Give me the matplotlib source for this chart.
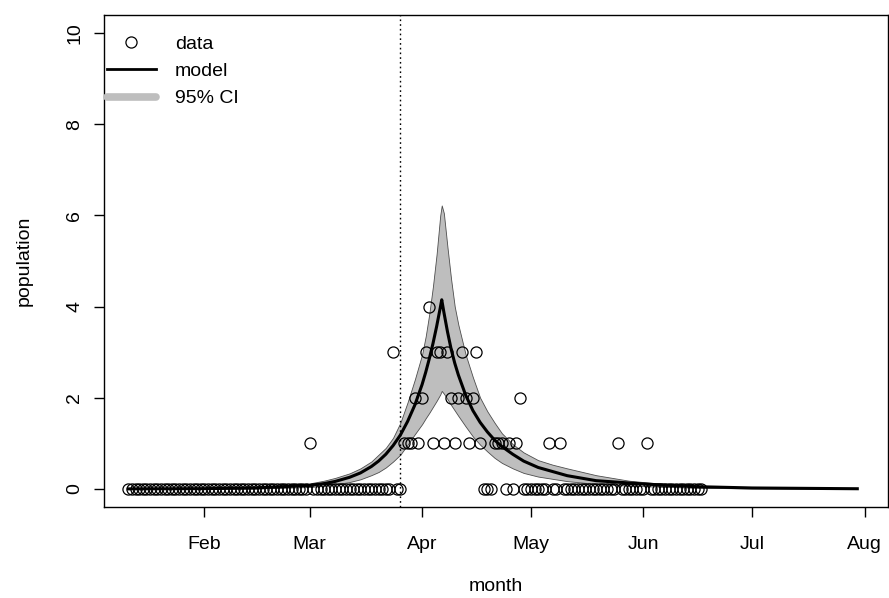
import numpy as np
import pandas as pd
import matplotlib
matplotlib.use("Agg")
import matplotlib.pyplot as plt
import matplotlib.dates as mdates
from matplotlib.lines import Line2D

plt.rcParams['font.family'] = ['Liberation Sans', 'DejaVu Sans']

# observed daily counts: every day from first to last is 0 except these
obs_start = "2020-01-11"
obs_end = "2020-06-17"
hit_dates = ["2020-03-01", "2020-03-24", "2020-03-27", "2020-03-28", "2020-03-29",
             "2020-03-30", "2020-03-31", "2020-04-01", "2020-04-02", "2020-04-03",
             "2020-04-04", "2020-04-05", "2020-04-06", "2020-04-07", "2020-04-08",
             "2020-04-09", "2020-04-10", "2020-04-11", "2020-04-12", "2020-04-13",
             "2020-04-14", "2020-04-15", "2020-04-16", "2020-04-17", "2020-04-21",
             "2020-04-22", "2020-04-23", "2020-04-25", "2020-04-27", "2020-04-28",
             "2020-05-06", "2020-05-09", "2020-05-25", "2020-06-02"]
hit_counts = [1, 3, 1, 1, 1,
              2, 1, 2, 3, 4,
              1, 3, 3, 1, 3,
              2, 1, 2, 3, 2,
              1, 2, 3, 1, 1,
              1, 1, 1, 1, 2,
              1, 1, 1, 1]

# fitted model and 95% CI
model_dates = ["2020-01-11 00:00", "2020-02-01 00:00", "2020-02-15 00:00", "2020-03-01 00:00",
               "2020-03-05 00:00", "2020-03-08 00:00", "2020-03-12 00:00", "2020-03-15 00:00",
               "2020-03-18 00:00", "2020-03-20 00:00", "2020-03-22 00:00", "2020-03-24 00:00",
               "2020-03-26 00:00", "2020-03-28 00:00", "2020-03-30 00:00", "2020-04-01 00:00",
               "2020-04-02 00:00", "2020-04-03 00:00", "2020-04-04 00:00", "2020-04-05 00:00",
               "2020-04-06 00:00", "2020-04-06 10:00", "2020-04-07 00:00", "2020-04-08 00:00",
               "2020-04-09 00:00", "2020-04-10 00:00", "2020-04-11 00:00", "2020-04-13 00:00",
               "2020-04-15 00:00", "2020-04-17 00:00", "2020-04-19 00:00", "2020-04-21 00:00",
               "2020-04-23 00:00", "2020-04-26 00:00", "2020-04-29 00:00", "2020-05-03 00:00",
               "2020-05-07 00:00", "2020-05-11 00:00", "2020-05-19 00:00", "2020-05-28 00:00",
               "2020-06-05 00:00", "2020-06-15 00:00", "2020-07-01 00:00", "2020-07-30 00:00"]
model_fit = [0.0, 0.005, 0.02, 0.076,
             0.117, 0.163, 0.254, 0.35,
             0.49, 0.61, 0.76, 0.95,
             1.18, 1.48, 1.84, 2.29,
             2.56, 2.86, 3.19, 3.56,
             3.97, 4.15, 3.88, 3.45,
             3.07, 2.76, 2.5, 2.06,
             1.72, 1.46, 1.25, 1.07,
             0.93, 0.76, 0.61, 0.47,
             0.38, 0.29, 0.18, 0.13,
             0.09, 0.05, 0.02, 0.003]
ci_low = [0.0, 0.002, 0.008, 0.04,
          0.07, 0.10, 0.15, 0.21,
          0.30, 0.37, 0.47, 0.60,
          0.75, 0.97, 1.20, 1.42,
          1.55, 1.67, 1.80, 1.93,
          2.07, 2.15, 2.09, 1.97,
          1.84, 1.72, 1.60, 1.37,
          1.15, 0.97, 0.82, 0.68,
          0.57, 0.45, 0.35, 0.27,
          0.22, 0.17, 0.11, 0.07,
          0.05, 0.025, 0.01, 0.001]
ci_high = [0.0, 0.01, 0.035, 0.12,
           0.18, 0.24, 0.34, 0.45,
           0.60, 0.75, 0.90, 1.12,
           1.45, 1.90, 2.40, 2.95,
           3.35, 3.85, 4.45, 5.15,
           6.00, 6.22, 6.05, 5.30,
           4.60, 4.00, 3.60, 2.95,
           2.45, 2.00, 1.70, 1.45,
           1.22, 0.98, 0.80, 0.63,
           0.53, 0.45, 0.30, 0.18,
           0.12, 0.07, 0.03, 0.005]

cutoff_date = "2020-03-26"

obs = pd.Series(0, index=pd.date_range(obs_start, obs_end, freq="D"))
obs[pd.to_datetime(hit_dates)] = hit_counts
mdt = pd.to_datetime(model_dates, format="%Y-%m-%d %H:%M")

fig = plt.figure(figsize=(8.89, 5.98), dpi=100)
ax = fig.add_axes([0.117, 0.152, 0.882, 0.823])

ax.fill_between(mdt, ci_low, ci_high, facecolor="#bebebe", edgecolor="#4d4d4d", lw=0.6, zorder=1)
ax.plot(obs.index, obs.values, "o", mfc="none", mec="black", ms=8, mew=0.9, zorder=3)
ax.plot(mdt, model_fit, color="black", lw=2.2, zorder=4)
ax.axvline(pd.Timestamp(cutoff_date), color="black", ls=(0, (1.2, 2.2)), lw=1, zorder=2)

ax.set_xlim(pd.Timestamp("2020-01-04 07:00"), pd.Timestamp("2020-08-07 12:00"))
ax.set_ylim(-0.4, 10.4)
ax.xaxis.set_major_locator(mdates.MonthLocator(bymonth=range(2, 9)))
ax.xaxis.set_major_formatter(mdates.DateFormatter("%b"))
ax.set_yticks([0, 2, 4, 6, 8, 10])
ax.set_yticklabels(["0", "2", "4", "6", "8", "10"], rotation=90, va="center")
ax.tick_params(direction="out", length=7, width=1, labelsize=14, pad=8)
ax.tick_params(axis="x", pad=14)
for s in ax.spines.values():
    s.set_linewidth(1)

ax.set_xlabel("month", fontsize=14, labelpad=18)
ax.set_ylabel("population", fontsize=14, labelpad=24)

handles = [Line2D([], [], ls="none", marker="o", mfc="none", mec="black", ms=8, mew=0.9),
           Line2D([], [], color="black", lw=2),
           Line2D([], [], color="#bebebe", lw=5.5, solid_capstyle="round")]
ax.legend(handles, ["data", "model", "95% CI"], loc="upper left", frameon=False,
          fontsize=14, handlelength=2.5, handletextpad=1.0, labelspacing=0.5,
          borderaxespad=0.0, bbox_to_anchor=(-0.006, 0.975))

fig.savefig("out.png", dpi=100)
